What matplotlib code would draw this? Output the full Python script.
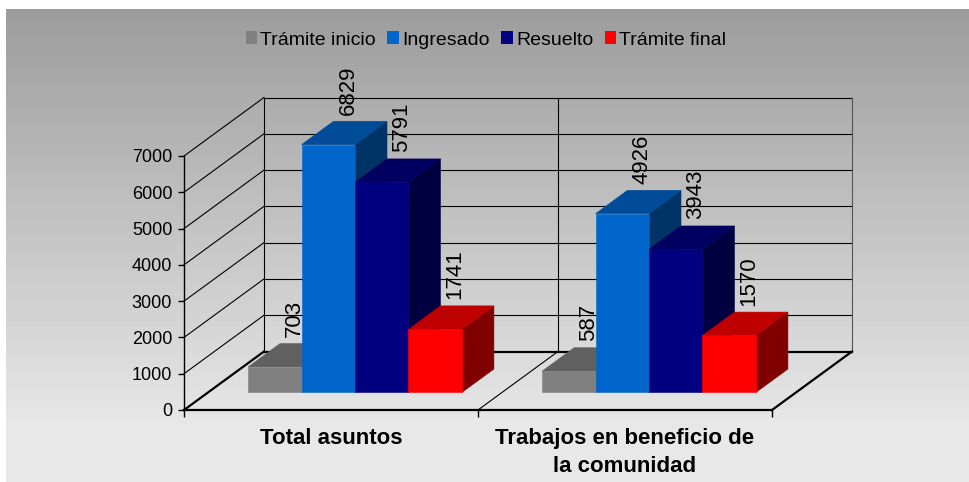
import numpy as np
import matplotlib.pyplot as plt
from matplotlib.patches import Polygon, Patch

plt.rcParams['font.family'] = ['Liberation Sans', 'DejaVu Sans']

categories = ['Total asuntos', 'Trabajos en beneficio de\nla comunidad']
series_names = ['Trámite inicio', 'Ingresado', 'Resuelto', 'Trámite final']
tramite_inicio = [703, 587]
ingresado = [6829, 4926]
resuelto = [5791, 3943]
tramite_final = [1741, 1570]
y_ticks = [0, 1000, 2000, 3000, 4000, 5000, 6000, 7000]

# front / top / side shade for each series (excel 3d look)
front_colors = ['#808080', '#0066cc', '#000080', '#ff0000']
top_colors = ['#606060', '#004c99', '#000060', '#bf0000']
side_colors = ['#404040', '#003366', '#000040', '#800000']

W, H = 970, 482
fig = plt.figure(figsize=(W / 100, H / 100), dpi=100)

# chart area gradient, white strip top/left
bg = fig.add_axes([0, 0, 1, 1], zorder=-5)
rows = np.arange(H)
shade = np.clip(156 + 76 * (rows - 9) / 421, 156, 232) / 255
img = np.repeat(shade[:, None], W, axis=1)
img[:9, :] = 1
img[:, :6] = 1
bg.imshow(img, cmap='gray', vmin=0, vmax=1, extent=(0, W, H, 0),
          aspect='auto', interpolation='nearest')
bg.axis('off')

# axes = front plane of the 3d box
ax = fig.add_axes([184 / W, 72 / H, 588 / W, 254 / H])
ax.set_xlim(0, 2)
ax.set_ylim(0, 7000)
ax.patch.set_alpha(0)

DX = 80 / 294            # depth shift in category units
DY = 58.5 / 254 * 7000   # depth shift in value units

# walls
for t in y_ticks:
    lw = 1.6 if t == 0 else 0.8
    ax.plot([0, DX], [t, t + DY], color='black', lw=lw, clip_on=False, zorder=1)
    ax.plot([DX, 2 + DX], [t + DY, t + DY], color='black', lw=lw, clip_on=False, zorder=1)
for xb in [0, 1, 2]:
    col = '#555555' if xb == 2 else 'black'
    ax.plot([xb + DX, xb + DX], [DY, 7000 + DY], color=col, lw=0.8, clip_on=False, zorder=1)
ax.plot([1, 1 + DX], [0, DY], color='black', lw=0.8, clip_on=False, zorder=1)
ax.plot([2, 2 + DX], [0, DY], color='black', lw=1.6, clip_on=False, zorder=1)

# bars
values = [tramite_inicio, ingresado, resuelto, tramite_final]
bar_w = 1 / 5.5
d0, d1 = 0.3, 0.7
ddx, ddy = (d1 - d0) * DX, (d1 - d0) * DY
z = 3
for c in range(len(categories)):
    for s, vals in enumerate(values):
        v = vals[c]
        x0 = c + 0.75 * bar_w + s * bar_w + d0 * DX
        x1 = x0 + bar_w
        y0 = d0 * DY
        y1 = v + d0 * DY
        side = [(x1, y0), (x1 + ddx, y0 + ddy), (x1 + ddx, y1 + ddy), (x1, y1)]
        top = [(x0, y1), (x1, y1), (x1 + ddx, y1 + ddy), (x0 + ddx, y1 + ddy)]
        front = [(x0, y0), (x1, y0), (x1, y1), (x0, y1)]
        for pts, col in [(side, side_colors[s]), (top, top_colors[s]), (front, front_colors[s])]:
            ax.add_patch(Polygon(pts, closed=True, facecolor=col, edgecolor=col,
                                 lw=0.4, clip_on=False, zorder=z))
            z += 1
        ax.text(x0 + bar_w / 2 + 0.25 * DX, v + d1 * DY + 180, str(v),
                rotation=90, ha='center', va='bottom', fontsize=16, zorder=50)

# axes decoration
ax.spines[['top', 'right']].set_visible(False)
ax.spines['left'].set_linewidth(1.0)
ax.spines['bottom'].set_linewidth(1.6)
ax.set_yticks(y_ticks)
ax.tick_params(axis='y', length=4.5, width=1, labelsize=13, pad=4)
ax.set_xticks([0, 1, 2])
ax.set_xticklabels([])
ax.tick_params(axis='x', which='major', length=5, width=1)
ax.set_xticks([0.5, 1.5], minor=True)
ax.set_xticklabels(categories, minor=True, fontsize=16, fontweight='bold')
ax.tick_params(axis='x', which='minor', length=0, pad=13)
for lab in ax.get_xticklabels(minor=True):
    lab.set_linespacing(1.45)

handles = [Patch(facecolor=c, edgecolor='none') for c in front_colors]
fig.legend(handles, series_names, loc='center', bbox_to_anchor=(486 / W, 1 - 40 / H),
           ncol=4, frameon=False, fontsize=14, handlelength=0.6, handleheight=0.64,
           handletextpad=0.16, columnspacing=0.59, borderpad=0)

fig.savefig('out.png', dpi=100)
